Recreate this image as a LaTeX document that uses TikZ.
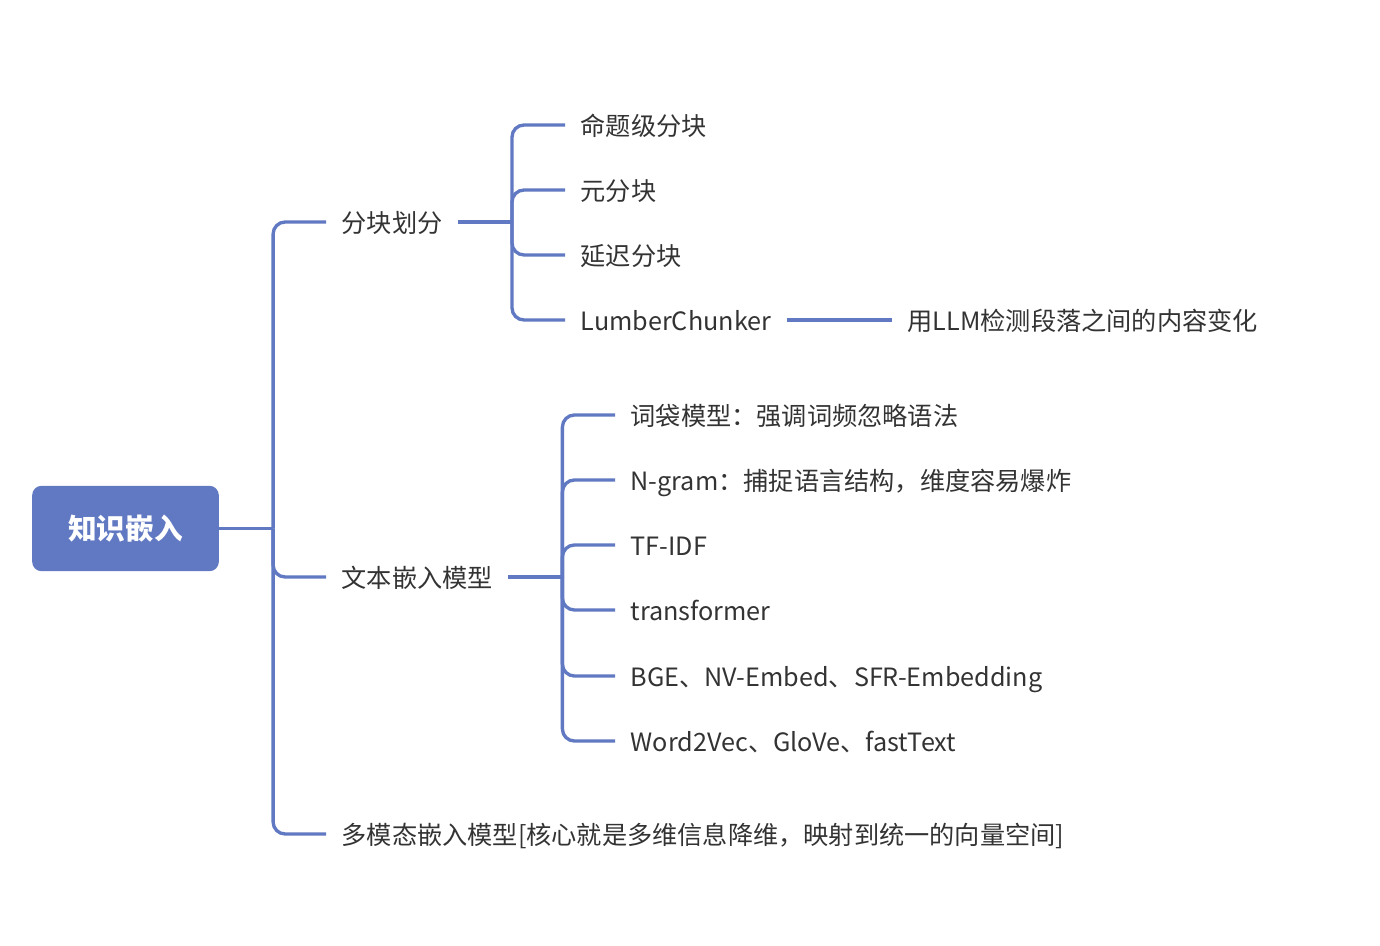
\documentclass[tikz,border=0pt]{standalone}
\usepackage{fontspec}
\setmainfont{Noto Sans CJK SC}
\usepackage{xcolor}
\definecolor{mapblue}{HTML}{6079C2}
\definecolor{maptext}{HTML}{333333}

\begin{document}
\begin{tikzpicture}[x=0.75pt,y=-0.75pt,
        topic/.style={anchor=west,inner xsep=11.5pt,inner ysep=0pt,text height=17pt,text depth=1pt,text=maptext,font=\fontsize{18.9}{23}\selectfont},
        link/.style={draw=mapblue,line width=2.5pt,rounded corners=9pt}]
        \useasboundingbox (0,0) rectangle (1380,945);
        % root
        \node[fill=mapblue,rounded corners=7pt,minimum width=140pt,minimum height=64pt,text=white,font=\fontsize{21.5}{26}\selectfont\bfseries] (root) at (125.5,528.5) {知识嵌入};
        % first level
        \node[topic] (chunk) at (326,222) {分块划分};
        \node[topic] (embed) at (326,577) {文本嵌入模型};
        \node[topic] (multi) at (326,834) {多模态嵌入模型[核心就是多维信息降维，映射到统一的向量空间]};
        % chunking
        \node[topic] (prop) at (565,125) {命题级分块};
        \node[topic] (meta) at (565,190) {元分块};
        \node[topic] (late) at (565,255) {延迟分块};
        \node[topic] (lumber) at (565,320) {LumberChunker};
        \node[topic] (llm) at (892,320) {用LLM检测段落之间的内容变化};
        % text embedding models
        \node[topic] (bow) at (615,415) {词袋模型：强调词频忽略语法};
        \node[topic] (ngram) at (615,480) {N-gram：捕捉语言结构，维度容易爆炸};
        \node[topic] (tfidf) at (615,545) {TF-IDF};
        \node[topic] (trans) at (615,610) {transformer};
        \node[topic] (bge) at (615,676) {BGE、NV-Embed、SFR-Embedding};
        \node[topic] (w2v) at (615,741) {Word2Vec、GloVe、fastText};
        % forks
        \path (root.east) ++(54,0) coordinate (rootfork);
        \path (chunk.east) ++(54,0) coordinate (chunkfork);
        \path (embed.east) ++(54,0) coordinate (embedfork);
        \draw[link] (root.east) -- (rootfork);
        \draw[link] (chunk.east) -- (chunkfork);
        \draw[link] (embed.east) -- (embedfork);
        \foreach \c in {chunk,embed,multi} \draw[link] (rootfork) |- (\c.west);
        \foreach \c in {prop,meta,late,lumber} \draw[link] (chunkfork) |- (\c.west);
        \foreach \c in {bow,ngram,tfidf,trans,bge,w2v} \draw[link] (embedfork) |- (\c.west);
        \draw[link] (lumber.east) -- (llm.west);
\end{tikzpicture}
\end{document}
